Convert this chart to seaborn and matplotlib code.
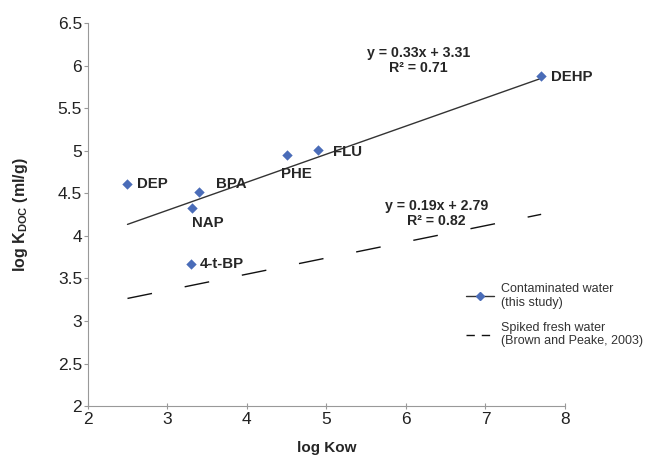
import numpy as np
import pandas as pd
import seaborn as sns
import matplotlib.pyplot as plt
from matplotlib.lines import Line2D
from matplotlib.legend_handler import HandlerLine2D

# datos
compuestos = ['DEP', 'NAP', 'BPA', '4-t-BP', 'PHE', 'FLU', 'DEHP']
log_kow = [2.5, 3.31, 3.4, 3.3, 4.5, 4.9, 7.7]
log_kdoc = [4.61, 4.33, 4.51, 3.67, 4.95, 5.01, 5.88]

# rectas de ajuste (pendiente, ordenada, R2) y su rango en x
ajuste_agua = (0.33, 3.31, 0.71)
ajuste_dulce = (0.19, 2.79, 0.82)
rango_x = [2.5, 7.7]

# desplazamiento de las etiquetas (pixeles)
desp = {'DEP': (10, 0), 'NAP': (0, -15), 'BPA': (17, 8), '4-t-BP': (9, 0),
        'PHE': (-6, -19), 'FLU': (15, -2), 'DEHP': (10, -1)}

sns.set_style("ticks")
plt.rcParams['font.family'] = ['Liberation Sans', 'DejaVu Sans']

df = pd.DataFrame({'x': log_kow, 'y': log_kdoc, 'nombre': compuestos})
lineas = pd.DataFrame({
    'x': rango_x * 2,
    'y': [ajuste_agua[0] * v + ajuste_agua[1] for v in rango_x] +
         [ajuste_dulce[0] * v + ajuste_dulce[1] for v in rango_x],
    'serie': ['agua'] * 2 + ['dulce'] * 2,
})

fig = plt.figure(figsize=(6.45, 4.62), dpi=100)
ax = fig.add_axes([0.136, 0.121, 0.740, 0.829])

azul = '#4a6cb8'
sns.lineplot(data=lineas[lineas.serie == 'agua'], x='x', y='y', ax=ax,
             color='#333333', lw=1.0)
sns.lineplot(data=lineas[lineas.serie == 'dulce'], x='x', y='y', ax=ax,
             color='#111111', lw=1.0, dashes=False, linestyle=(0, (18, 24)))
sns.scatterplot(data=df, x='x', y='y', ax=ax, marker='D', s=28,
                color=azul, edgecolor=azul, linewidth=0, zorder=3)

for n, xx, yy in zip(compuestos, log_kow, log_kdoc):
    dx, dy = desp[n]
    ax.annotate(n, (xx, yy), xytext=(dx, dy), textcoords='offset pixels',
                ha='left', va='center', fontsize=10.8, fontweight='bold')

ax.text(6.16, 6.06, 'y = %.2fx + %.2f\nR² = %.2f' % ajuste_agua,
        ha='center', va='center', fontsize=10.2, fontweight='bold', linespacing=1.1)
ax.text(6.38, 4.26, 'y = %.2fx + %.2f\nR² = %.2f' % ajuste_dulce,
        ha='center', va='center', fontsize=10.2, fontweight='bold', linespacing=1.1)

ax.set_xlim(2, 8)
ax.set_ylim(2, 6.5)
ax.set_xticks(np.arange(2, 9, 1))
ax.set_yticks(np.arange(2, 6.6, 0.5))
ax.set_yticklabels(['2', '2.5', '3', '3.5', '4', '4.5', '5', '5.5', '6', '6.5'])
ax.tick_params(axis='both', labelsize=12.5, colors='#999999', labelcolor='#222222',
               length=4, width=0.8, pad=2)
ax.tick_params(axis='y', length=3, pad=1)
ax.tick_params(axis='x', direction='inout')
for lado in ['top', 'right']:
    ax.spines[lado].set_visible(False)
for lado in ['left', 'bottom']:
    ax.spines[lado].set_color('#999999')
    ax.spines[lado].set_linewidth(0.8)

ax.set_xlabel('log Kow', fontsize=11, fontweight='bold', labelpad=10)
ax.set_ylabel(r'log K$_\mathregular{DOC}$ (ml/g)', fontsize=11.5, fontweight='bold',
              labelpad=20)


# marcador al final de la linea en la leyenda
class HandlerFinal(HandlerLine2D):
    def get_xdata(self, legend, xdescent, ydescent, width, height, fontsize):
        xdata, xm = super().get_xdata(legend, xdescent, ydescent, width, height, fontsize)
        return xdata, [-xdescent + 0.8 * width]


h1 = Line2D([], [], color='#333333', lw=1.0, marker='D', markersize=4,
            markerfacecolor=azul, markeredgecolor=azul)
h2 = Line2D([], [], color='#111111', lw=1.0, linestyle=(0, (6, 5)))
leg = ax.legend([h1, h2], ['Contaminated water\n(this study)',
                           'Spiked fresh water\n(Brown and Peake, 2003)'],
                loc='upper left', bbox_to_anchor=(0.77, 0.35), frameon=False,
                fontsize=9, handlelength=2.2, handletextpad=0.6, labelspacing=1.0,
                numpoints=1, handler_map={h1: HandlerFinal()})
for t in leg.get_texts():
    t.set_color('#333333')

fig.savefig('out.png', dpi=100)
